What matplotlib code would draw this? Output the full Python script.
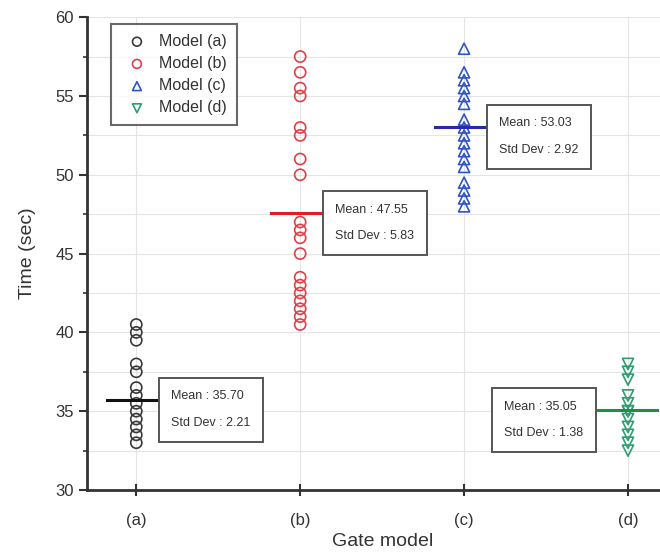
import numpy as np
import matplotlib.pyplot as plt
from matplotlib.ticker import MultipleLocator

plt.rcParams['font.family'] = ['Liberation Sans', 'DejaVu Sans']

# data
labels = ['(a)', '(b)', '(c)', '(d)']
legend_names = ['Model (a)', 'Model (b)', 'Model (c)', 'Model (d)']
times_a = [40.5, 40.0, 39.5, 38.0, 37.5, 36.5, 36.0, 35.5, 35.0, 34.5, 34.0, 33.5, 33.0]
times_b = [57.5, 56.5, 55.5, 55.0, 53.0, 52.5, 51.0, 50.0, 47.0, 46.5, 46.0, 45.0,
           43.5, 43.0, 42.5, 42.0, 41.5, 41.0, 40.5]
times_c = [58.0, 56.5, 56.0, 55.5, 55.0, 54.5, 53.5, 53.0, 52.5, 52.0, 51.5, 51.0,
           50.5, 49.5, 49.0, 48.5, 48.0]
times_d = [38.0, 37.5, 37.0, 36.0, 35.5, 35.0, 35.0, 34.5, 34.0, 33.5, 33.0, 32.5]
means = [35.70, 47.55, 53.03, 35.05]
stds = [2.21, 5.83, 2.92, 1.38]

all_times = [times_a, times_b, times_c, times_d]
markers = ['o', 'o', '^', 'v']
colors = ['#3a3a3a', '#e0404a', '#2f55c8', '#2e9e70']
line_colors = ['#111111', '#e02020', '#2a2aa8', '#1f9040']

fig = plt.figure(figsize=(6.6, 5.54), dpi=100)
ax = fig.add_axes([0.132, 0.1155, 0.894, 0.8535])

for i, vals in enumerate(all_times):
    x = np.full(len(vals), i + 1)
    ax.scatter(x, vals, marker=markers[i], s=64, facecolors='none',
               edgecolors=colors[i], linewidths=1.2, label=legend_names[i], zorder=3)
    ax.plot([i + 1 - 0.18, i + 1 + 0.18], [means[i], means[i]],
            color=line_colors[i], lw=2.2, zorder=4)

# annotation boxes
box = dict(boxstyle='square,pad=1.0', fc='white', ec='#555555', lw=1.4)
for i in range(4):
    txt = 'Mean : %.2f\n\nStd Dev : %.2f' % (means[i], stds[i])
    if i == 3:
        ax.annotate(txt, xy=(i + 1 - 0.18, means[i]), xytext=(-11, 7),
                    textcoords='offset points', ha='right', va='top',
                    multialignment='left', fontsize=9, color='#333333',
                    linespacing=1.15, bbox=box, zorder=5)
    else:
        ax.annotate(txt, xy=(i + 1 + 0.18, means[i]), xytext=(4, 7),
                    textcoords='offset points', ha='left', va='top',
                    fontsize=9, color='#333333', linespacing=1.15, bbox=box, zorder=5)

ax.set_xlim(0.7, 4.3)
ax.set_ylim(30, 60)
ax.set_xticks([1, 2, 3, 4])
ax.set_xticklabels(labels)
ax.yaxis.set_major_locator(MultipleLocator(5))
ax.yaxis.set_minor_locator(MultipleLocator(2.5))
ax.grid(True, which='both', color='#e4e4e4', lw=0.8)
ax.set_axisbelow(True)

for s in ['top', 'right']:
    ax.spines[s].set_visible(False)
for s in ['left', 'bottom']:
    ax.spines[s].set_linewidth(2)
    ax.spines[s].set_color('#333333')

ax.tick_params(axis='y', direction='out', length=6, width=1.5, colors='#333333',
               labelsize=12)
ax.tick_params(axis='y', which='minor', direction='out', length=3, width=1.2,
               colors='#333333')
ax.tick_params(axis='x', direction='inout', length=9, width=1.5, colors='#333333',
               labelsize=12, pad=12)
ax.set_xlabel('Gate model', fontsize=14, color='#333333', labelpad=4)
ax.set_ylabel('Time (sec)', fontsize=14, color='#333333', labelpad=14)

leg = ax.legend(loc='upper left', bbox_to_anchor=(0.033, 0.995), fontsize=11.5,
                frameon=True, fancybox=False, edgecolor='#444444',
                handletextpad=0.4, borderpad=0.6, labelspacing=0.45,
                borderaxespad=0.3, markerscale=0.8)
leg.get_frame().set_linewidth(1.5)
for t in leg.get_texts():
    t.set_color('#333333')

plt.savefig('out.png', dpi=100)
